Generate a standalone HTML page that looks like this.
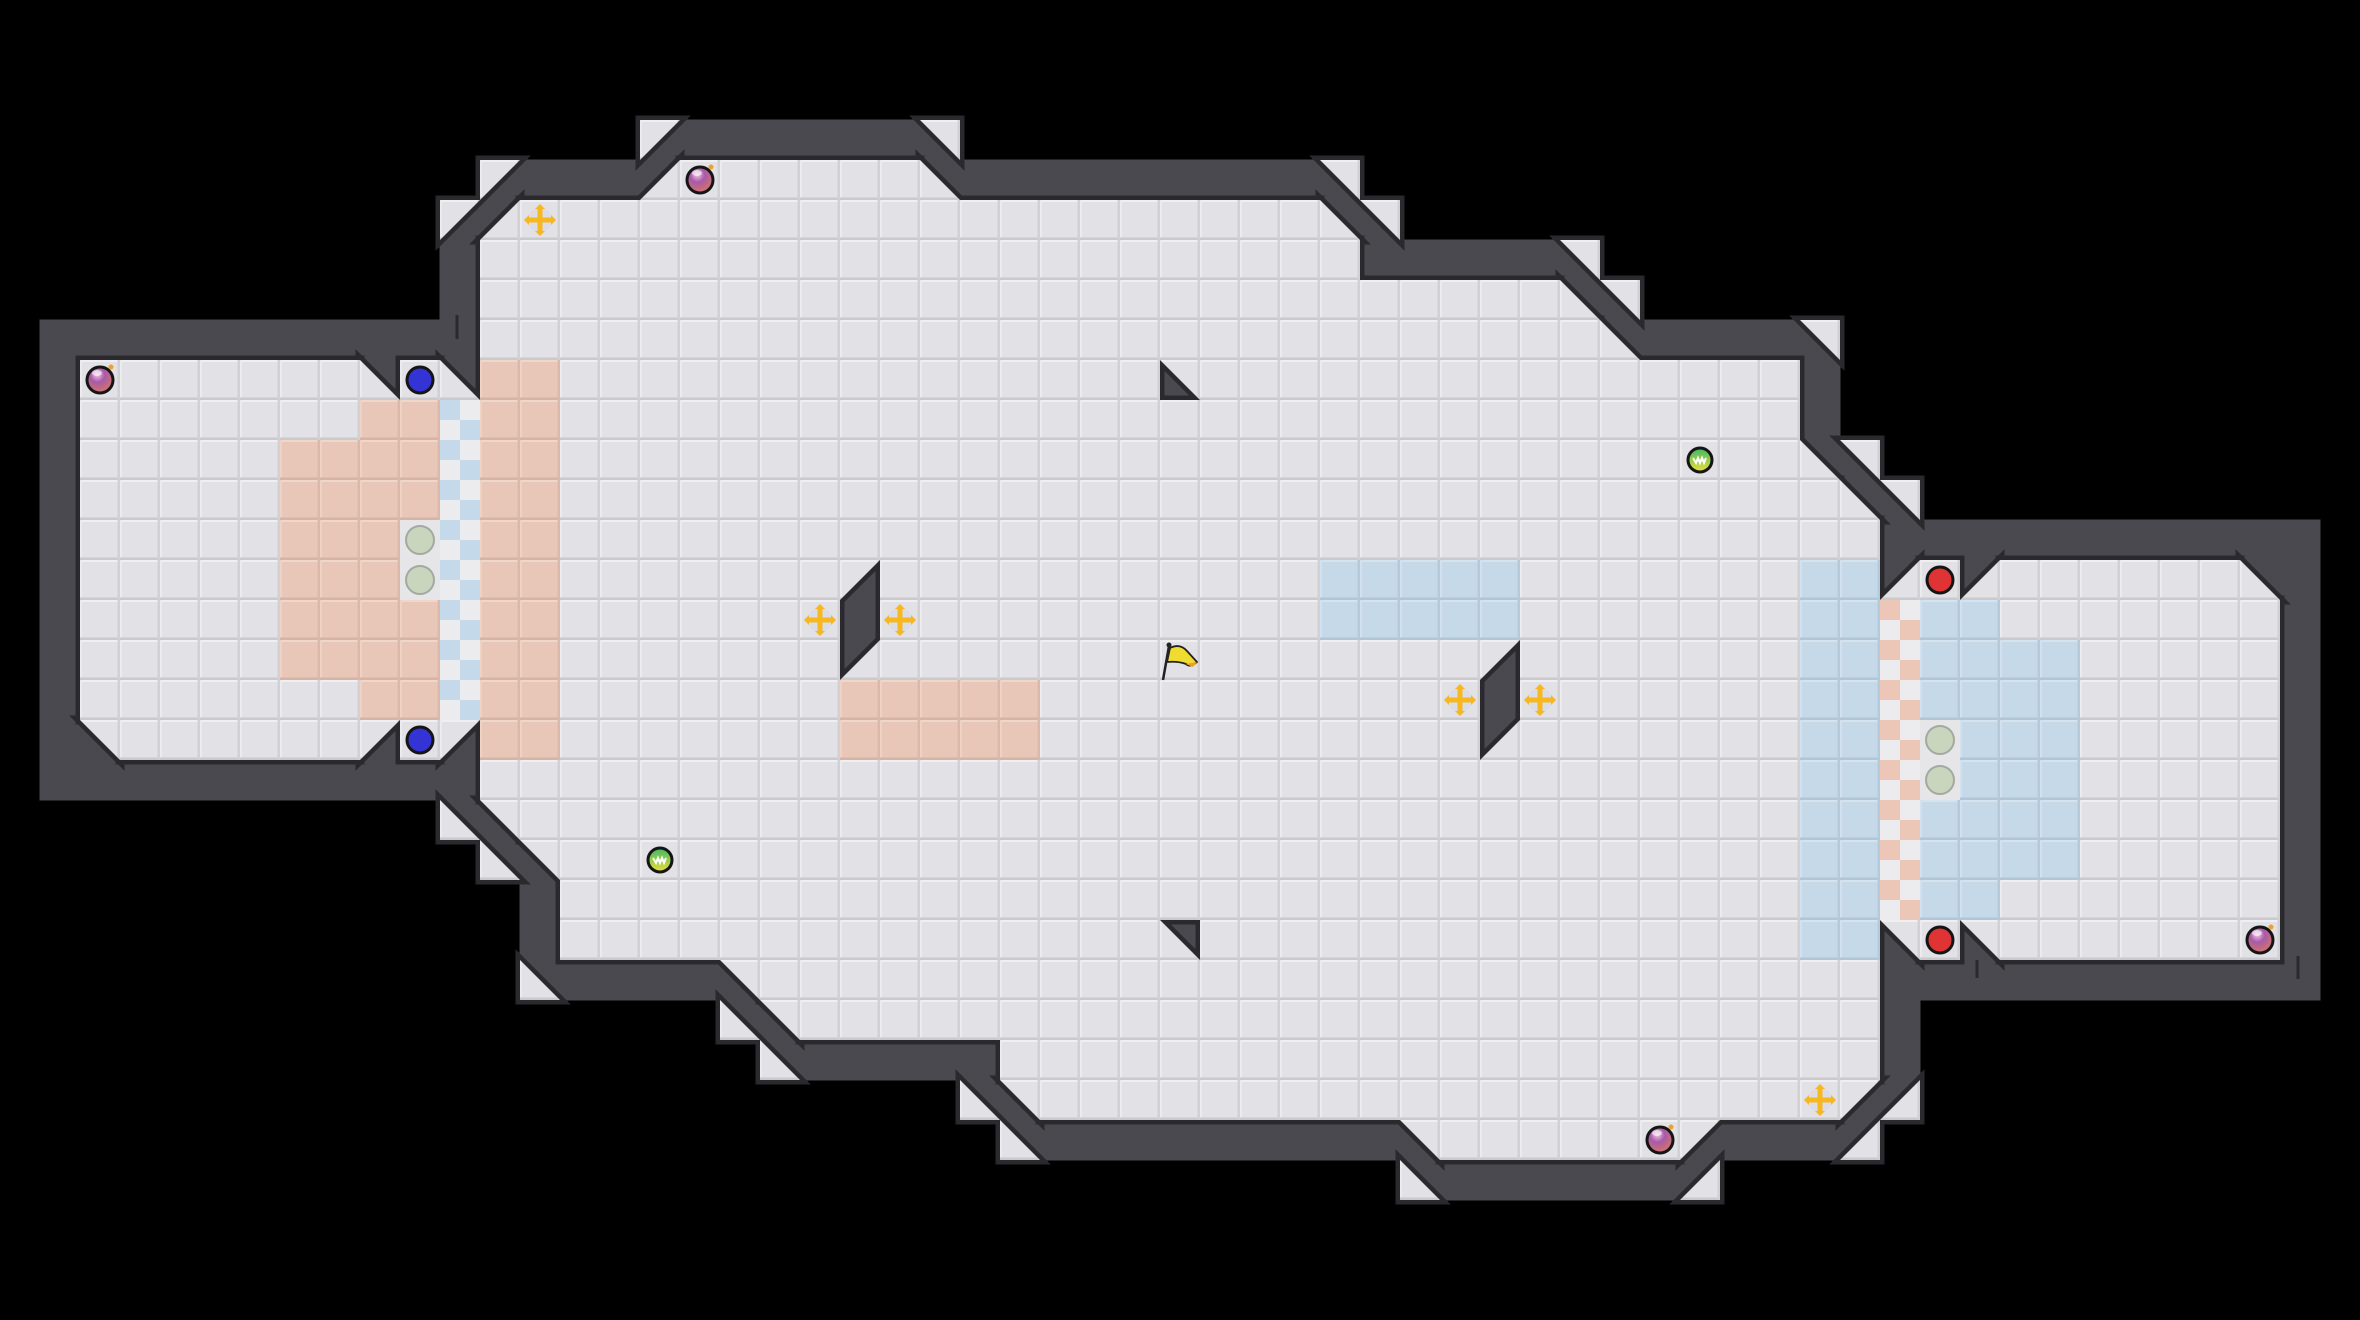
<!DOCTYPE html>
<html><head><meta charset="utf-8"><style>
html,body{margin:0;padding:0;background:#000;width:2360px;height:1320px;overflow:hidden}
svg{display:block}
</style></head><body>
<svg id="s" xmlns="http://www.w3.org/2000/svg" width="2360" height="1320" viewBox="0 0 2360 1320">
<defs>
<pattern id="pF" patternUnits="userSpaceOnUse" x="40" y="120" width="40" height="40">
<rect width="40" height="40" fill="#e2e1e6"/><rect width="40" height="2" fill="#efeff2"/><rect width="2" height="40" fill="#ececef"/><rect y="37.5" width="40" height="2.5" fill="#cacace"/><rect x="37.5" width="2.5" height="40" fill="#d0d0d5"/>
</pattern>
<pattern id="pR" patternUnits="userSpaceOnUse" x="40" y="120" width="40" height="40">
<rect width="40" height="40" fill="#e8c6b8"/><rect width="40" height="2" fill="#f0d5ca"/><rect width="2" height="40" fill="#eed2c6"/><rect y="37.5" width="40" height="2.5" fill="#d7b3a5"/><rect x="37.5" width="2.5" height="40" fill="#dbb8aa"/>
</pattern>
<pattern id="pB" patternUnits="userSpaceOnUse" x="40" y="120" width="40" height="40">
<rect width="40" height="40" fill="#c6d9e8"/><rect width="40" height="2" fill="#d5e3ee"/><rect width="2" height="40" fill="#d2e1ed"/><rect y="37.5" width="40" height="2.5" fill="#afc6d8"/><rect x="37.5" width="2.5" height="40" fill="#b4cadb"/>
</pattern>
<pattern id="pX" patternUnits="userSpaceOnUse" x="40" y="120" width="40" height="40">
<rect width="40" height="40" fill="#ececee"/><rect width="20" height="20" fill="#c4d9ea"/><rect x="20" y="20" width="20" height="20" fill="#c4d9ea"/>
</pattern>
<pattern id="pY" patternUnits="userSpaceOnUse" x="40" y="120" width="40" height="40">
<rect width="40" height="40" fill="#ececee"/><rect width="20" height="20" fill="#ecc6b6"/><rect x="20" y="20" width="20" height="20" fill="#ecc6b6"/>
</pattern>
<radialGradient id="gBomb" cx="0.4" cy="0.3" r="0.8"><stop offset="0" stop-color="#f2c6e6"/><stop offset="0.35" stop-color="#a85aa8"/><stop offset="1" stop-color="#e07a5a"/></radialGradient>
<linearGradient id="gJ" x1="0" y1="0" x2="0" y2="1"><stop offset="0" stop-color="#3cb868"/><stop offset="1" stop-color="#f0e030"/></linearGradient>
</defs>
<g id="walls"></g><g id="fstroke"></g><g id="ffill"></g><g id="items"></g>
</svg>
<script>
var L=[
"...............dWWWWWWc......",
"...........dWWWaFFFFFFbWWWWWW",
"..........daFFFFFFFFFFFFFFFFF",
"..........WFFFFFFFFFFFFFFFFFF",
"..........WFFFFFFFFFFFFFFFFFF",
"WWWWWWWWWWWFFFFFFFFFFFFFFFFFF",
"WFFFFFFFbFbRRFFFFFFFFFFFFFFFc",
"WFFFFFFFRRXRRFFFFFFFFFFFFFFFF",
"WFFFFFRRRRXRRFFFFFFFFFFFFFFFF",
"WFFFFFRRRRXRRFFFFFFFFFFFFFFFF",
"WFFFFFRRRFXRRFFFFFFFFFFFFFFFF",
"WFFFFFRRRFXRRFFFFFFFdFFFFFFFF",
"WFFFFFRRRRXRRFFFFFFFWFFFFFFFF",
"WFFFFFRRRRXRRFFFFFFFaFFFFFFFF",
"WFFFFFFFRRXRRFFFFFFFRRRRRFFFF",
"WcFFFFFFdFdRRFFFFFFFRRRRRFFFF",
"WWWWWWWWWWWFFFFFFFFFFFFFFFFFF",
"..........bcFFFFFFFFFFFFFFFFF",
"...........bcFFFFFFFFFFFFFFFF",
"............WFFFFFFFFFFFFFFFF",
"............WFFFFFFFFFFFFFFFF",
"............bWWWWcFFFFFFFFFFF",
".................bcFFFFFFFFFF",
"..................bWWWWWFFFFF",
".......................bcFFFF",
"........................bWWWW",
"............................."];
var MR={a:'d',d:'a',b:'c',c:'b',R:'B',B:'R',X:'Y',Y:'X',W:'W',F:'F','.':'.'};
function get(c,r){
  if(c<28||(c==28&&r<=13))return L[r][c];
  return MR[L[26-r][56-c]];
}
var T=40,X0=40,Y0=120,NS='http://www.w3.org/2000/svg';
var W=[],FL=[];
function tri(x,y,k){
  if(k=='TL')return [x,y,x+T,y,x,y+T];
  if(k=='TR')return [x,y,x+T,y,x+T,y+T];
  if(k=='BL')return [x,y,x,y+T,x+T,y+T];
  return [x+T,y,x+T,y+T,x,y+T];
}
var wallK={a:'TL',b:'TR',c:'BL',d:'BR'},floorK={a:'BR',b:'BL',c:'TR',d:'TL'};
for(var r=0;r<27;r++)for(var c=0;c<57;c++){
  var ch=get(c,r),x=X0+c*T,y=Y0+r*T;
  if(ch=='.')continue;
  if(ch=='W'){W.push([x,y,x+T,y,x+T,y+T,x,y+T]);continue;}
  if(wallK[ch]){W.push(tri(x,y,wallK[ch]));FL.push([tri(x,y,floorK[ch]),'pF']);continue;}
  var p={F:'pF',R:'pR',B:'pB',X:'pX',Y:'pY'}[ch];
  FL.push([[x,y,x+T,y,x+T,y+T,x,y+T],p]);
}
function poly(g,pts,attrs){
  var e=document.createElementNS(NS,'polygon');e.setAttribute('points',pts.join(' '));
  for(var k in attrs)e.setAttribute(k,attrs[k]);g.appendChild(e);
}
var gw=document.getElementById('walls'),gs=document.getElementById('fstroke'),gf=document.getElementById('ffill');
W.forEach(function(p){poly(gw,p,{fill:'#4a494f',stroke:'#4a494f','stroke-width':'1'});});
FL.forEach(function(f){poly(gs,f[0],{fill:'#2a2a2e',stroke:'#2a2a2e','stroke-width':'9','stroke-linejoin':'miter'});});
FL.forEach(function(f){poly(gf,f[0],{fill:'url(#'+f[1]+')',stroke:'none'});});
var gi=document.getElementById('items'),h='';
function cen(c,r){return [X0+c*T+20,Y0+r*T+20];}
[[9,6],[9,15]].forEach(function(p){var q=cen(p[0],p[1]);h+='<circle cx="'+q[0]+'" cy="'+q[1]+'" r="13" fill="#3434d6" stroke="#151515" stroke-width="3"/>';});
[[47,11],[47,20]].forEach(function(p){var q=cen(p[0],p[1]);h+='<circle cx="'+q[0]+'" cy="'+q[1]+'" r="13" fill="#e03434" stroke="#151515" stroke-width="3"/>';});
[[9,10],[9,11],[47,15],[47,16]].forEach(function(p){var q=cen(p[0],p[1]);h+='<rect x="'+(q[0]-20)+'" y="'+(q[1]-20)+'" width="40" height="40" fill="#e6e6e9"/><circle cx="'+q[0]+'" cy="'+q[1]+'" r="14" fill="#c9d5bd" stroke="#a3a8a0" stroke-width="2"/>';});
[[1,6],[16,1],[55,20],[40,25]].forEach(function(p){var q=cen(p[0],p[1]);h+='<circle cx="'+q[0]+'" cy="'+q[1]+'" r="13" fill="url(#gBomb)" stroke="#151515" stroke-width="3"/><circle cx="'+(q[0]+11)+'" cy="'+(q[1]-13)+'" r="2.5" fill="#f0a030"/><ellipse cx="'+(q[0]-3)+'" cy="'+(q[1]-7)+'" rx="5" ry="3" fill="#fff" opacity="0.6"/>';});
[[15,18],[41,8]].forEach(function(p){var q=cen(p[0],p[1]);h+='<circle cx="'+q[0]+'" cy="'+q[1]+'" r="12" fill="url(#gJ)" stroke="#151515" stroke-width="3"/><path d="M'+(q[0]-7)+' '+(q[1]-2)+' l3 5 l2 -5 l2 5 l2 -5 l2 5 l2 -5" fill="none" stroke="#fff" stroke-width="2"/>';});
[[12,2],[19,12],[21,12],[44,24],[37,14],[35,14]].forEach(function(p){var q=cen(p[0],p[1]),x=q[0],y=q[1];
 h+='<circle cx="'+x+'" cy="'+y+'" r="12" fill="#d9d9e6" opacity="0.6"/><rect x="'+(x-13)+'" y="'+(y-2.5)+'" width="26" height="5" fill="#f6b820"/><rect x="'+(x-2.5)+'" y="'+(y-13)+'" width="5" height="26" fill="#f6b820"/>'+
 '<polygon points="'+(x-16)+','+y+' '+(x-11)+','+(y-5)+' '+(x-11)+','+(y+5)+'" fill="#f6b820"/><polygon points="'+(x+16)+','+y+' '+(x+11)+','+(y-5)+' '+(x+11)+','+(y+5)+'" fill="#f6b820"/>'+
 '<polygon points="'+x+','+(y-16)+' '+(x-5)+','+(y-11)+' '+(x+5)+','+(y-11)+'" fill="#f6b820"/><polygon points="'+x+','+(y+16)+' '+(x-5)+','+(y+11)+' '+(x+5)+','+(y+11)+'" fill="#f6b820"/>';});
h+='<line x1="1163" y1="680" x2="1169" y2="646" stroke="#222" stroke-width="2.5"/><circle cx="1169" cy="645" r="2.5" fill="#222"/><path d="M1170 648 Q1180 643 1187 651 L1197 662 Q1190 668 1186 664 Q1178 661 1167 662 Z" fill="#f0dc30" stroke="#222" stroke-width="1.8"/><path d="M1186 664 L1197 662 L1193 667 Z" fill="#f0a020"/>';
h+='<line x1="457" y1="315" x2="457" y2="339" stroke="#2a2a2e" stroke-width="3"/><line x1="1977" y1="960" x2="1977" y2="978" stroke="#2a2a2e" stroke-width="3"/><line x1="2298" y1="956" x2="2298" y2="979" stroke="#2a2a2e" stroke-width="3"/>';
gi.innerHTML=h;
</script>
</body></html>
